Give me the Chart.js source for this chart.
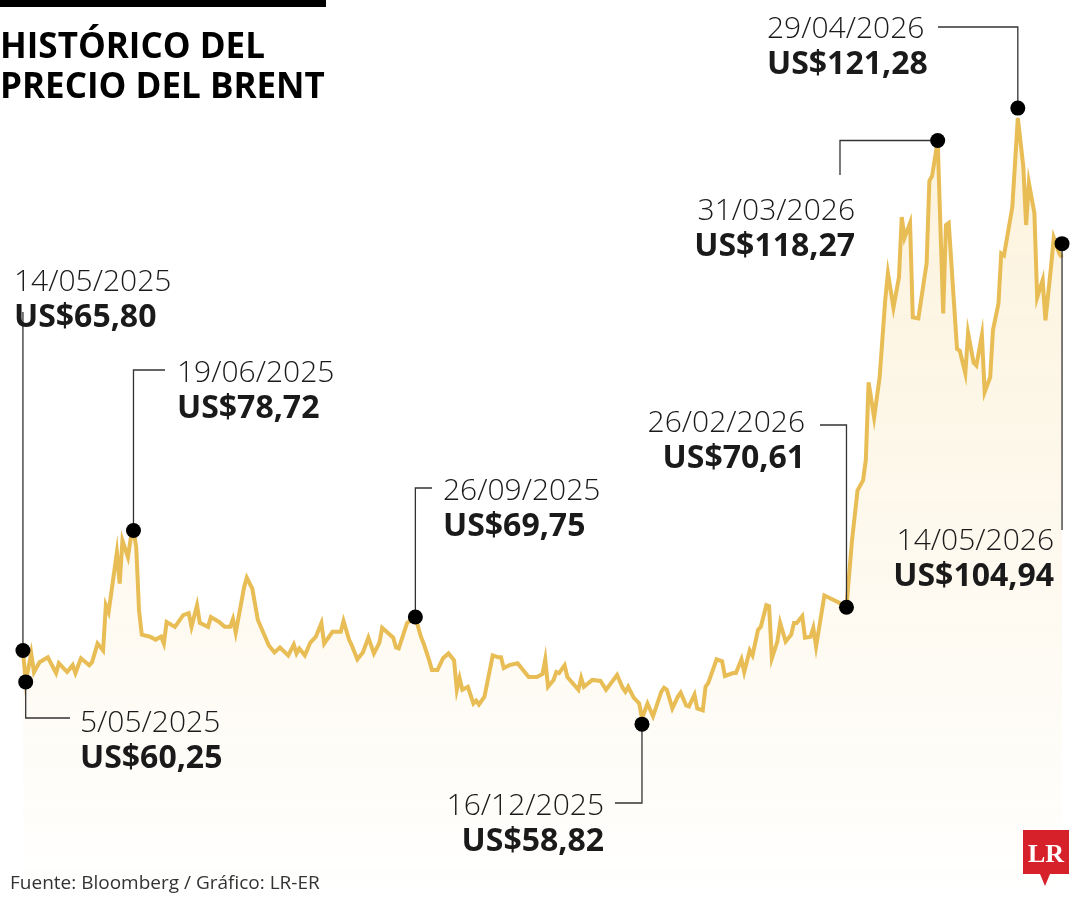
<!DOCTYPE html>
<html>
<head>
<meta charset="utf-8">
<script src="https://cdn.jsdelivr.net/npm/chart.js@4.4.1/dist/chart.umd.min.js"></script>
<style>
  html, body { margin: 0; padding: 0; background: #fff; }
  #wrap { position: relative; width: 1080px; height: 900px; }
</style>
</head>
<body>
<div id="wrap"><canvas id="brentChart" width="1080" height="900"></canvas></div>
<script>
// days since 5/05/2025
const days = [0,1,3,4,6,9,12,13,16,18,19,21,24,25,27,29,30,31,34,35,36,38,39,40,41,42,43,46,48,50,51,52,55,58,60,61,63,64,67,68,71,73,75,76,77,80,81,83,85,87,89,91,93,96,98,99,100,102,104,106,108,109,112,115,116,118,119,121,123,125,127,129,130,134,135,136,139,142,144,145,147,148,150,152,154,156,157,158,159,161,163,164,165,167,170,172,173,174,176,179,183,186,188,189,190,192,193,194,196,197,201,202,203,206,209,211,215,217,218,219,221,223,224,226,228,231,232,233,235,237,238,240,241,243,244,246,247,248,251,253,254,257,258,260,261,263,264,266,267,269,270,271,273,274,276,278,279,280,282,283,285,286,287,290,295,298,300,302,304,305,306,308,310,312,313,315,317,318,319,321,322,324,327,328,329,331,333,334,335,338,339,341,342,344,345,347,348,350,351,353,354,355,358,360,362,363,364,366,367,369,370,372,373,375,376];
const prices = [66.1,62.9,65.8,63.9,64.9,65.4,63.8,64.8,63.9,64.6,63.8,65.3,64.6,64.9,66.8,66.1,70.7,70.0,76.1,72.9,77.3,75.6,77.5,78.3,76.6,70.2,67.7,67.5,67.2,67.5,66.8,69.0,68.5,69.7,69.9,68.5,70.7,68.9,68.5,69.5,69.0,68.5,68.5,69.3,67.9,72.5,73.5,72.4,69.2,67.9,66.6,65.9,66.4,65.6,66.7,65.8,66.3,65.6,66.9,67.5,68.9,66.8,68.0,68.0,69.1,67.2,66.6,65.2,65.9,67.4,65.8,66.9,68.4,67.4,66.4,66.3,68.9,69.5,67.5,66.8,65.1,64.1,64.1,65.3,65.8,65.1,62.1,63.3,62.1,62.4,60.7,61.0,60.6,61.4,65.6,65.4,65.4,64.3,64.6,64.8,63.4,63.4,63.7,65.2,62.4,63.1,63.9,63.8,64.6,63.4,62.1,63.3,62.4,63.1,63.0,62.1,63.6,62.3,61.9,62.4,61.3,60.7,59.2,60.7,59.4,61.9,62.3,62.1,60.2,61.4,61.8,60.5,60.4,61.6,60.2,60.0,62.4,62.8,65.2,65.0,63.5,63.8,63.8,65.2,63.9,66.1,65.6,68.2,68.5,70.7,70.6,65.3,67.0,68.9,67.0,67.7,68.9,68.9,69.6,67.4,67.5,68.4,66.5,71.7,71.0,70.5,77.3,82.4,83.4,85.5,93.4,89.8,93.9,101.7,104.5,101.0,104.1,110.2,108.1,109.6,100.0,99.9,105.5,113.9,114.4,118.0,100.4,109.4,109.6,96.8,96.6,94.3,98.4,95.4,95.1,98.2,92.4,93.9,98.7,101.4,106.5,106.3,111.2,120.3,115.3,109.4,113.7,110.6,102.0,103.8,99.7,105.1,108.1,106.5,106.1];

// highlighted points
const markDays = [0, 1, 40, 142, 224, 298, 331, 360, 376];
const markPrices = [66.1, 62.9, 78.3, 69.5, 58.6, 70.5, 118.0, 121.3, 107.5];
const markDates = ["14/05/2025","5/05/2025","19/06/2025","26/09/2025","16/12/2025","26/02/2026","31/03/2026","29/04/2026","14/05/2026"];
const markValues = ["US$65,80","US$60,25","US$78,72","US$69,75","US$58,82","US$70,61","US$118,27","US$121,28","US$104,94"];

// label layout: text anchor x, date baseline y, alignment, leader path
const labelLayout = [
  { x: 14, y: 291, align: "left", path: [[0, 312]] },
  { x: 80, y: 732, align: "left", path: [[0, 718], [70, 718]] },
  { x: 177, y: 382, align: "left", path: [[0, 370], [165, 370]] },
  { x: 443, y: 500, align: "left", path: [[0, 488], [432, 488]] },
  { x: 604, y: 815, align: "right", path: [[0, 803], [615, 803]] },
  { x: 805, y: 432, align: "right", path: [[0, 425], [820, 425]] },
  { x: 855, y: 220, align: "right", path: [[840, 0], [840, 175]] },
  { x: 767, y: 38, align: "left", path: [[0, 27], [938, 27]] },
  { x: 1054, y: 550, align: "right", path: [[0, 530]] },
];

const annotations = {
  id: "annotations",
  afterDraw(chart) {
    const { ctx, scales } = chart;
    ctx.save();
    // leader lines
    ctx.strokeStyle = "#333";
    ctx.lineWidth = 1.3;
    markDays.forEach((d, i) => {
      const px = scales.x.getPixelForValue(d);
      const py = scales.y.getPixelForValue(markPrices[i]);
      ctx.beginPath();
      ctx.moveTo(px, py);
      let cx = px, cy = py;
      labelLayout[i].path.forEach(([ax, ay]) => {
        cx = ax === 0 ? cx : ax;
        cy = ay === 0 ? cy : ay;
        ctx.lineTo(cx, cy);
      });
      ctx.stroke();
    });
    // dots
    ctx.fillStyle = "#000";
    markDays.forEach((d, i) => {
      ctx.beginPath();
      ctx.arc(scales.x.getPixelForValue(d), scales.y.getPixelForValue(markPrices[i]), 7.5, 0, Math.PI * 2);
      ctx.fill();
    });
    // labels
    ctx.fillStyle = "#1a1a1a";
    labelLayout.forEach((l, i) => {
      ctx.textAlign = l.align;
      ctx.font = "300 30px 'Open Sans'";
      ctx.fillText(markDates[i], l.x, l.y);
      ctx.font = "bold 32px 'Open Sans'";
      ctx.fillText(markValues[i], l.x, l.y + 36);
    });
    // title
    ctx.textAlign = "left";
    ctx.fillStyle = "#000";
    ctx.fillRect(0, 0, 326, 7);
    ctx.font = "bold 35px 'Open Sans'";
    ctx.fillText("HISTÓRICO DEL", 0, 58);
    ctx.fillText("PRECIO DEL BRENT", 0, 98);
    // source
    ctx.fillStyle = "#333";
    ctx.font = "19px 'Open Sans'";
    ctx.fillText("Fuente: Bloomberg / Gráfico: LR-ER", 10, 889);
    // logo
    ctx.fillStyle = "#d6212a";
    ctx.fillRect(1023, 830, 46, 44);
    ctx.beginPath();
    ctx.moveTo(1040, 874); ctx.lineTo(1050, 874); ctx.lineTo(1045, 886); ctx.closePath();
    ctx.fill();
    ctx.fillStyle = "#fff";
    ctx.font = "bold 26px 'Liberation Serif'";
    ctx.textAlign = "center";
    ctx.fillText("LR", 1046, 862);
    ctx.restore();
  }
};

const canvas = document.getElementById("brentChart");
const ctx = canvas.getContext("2d");
const grad = ctx.createLinearGradient(0, 100, 0, 900);
grad.addColorStop(0, "rgba(250,232,190,0.55)");
grad.addColorStop(1, "rgba(255,255,255,0.6)");

new Chart(ctx, {
  type: "line",
  data: {
    datasets: [{
      data: days.map((d, i) => ({ x: d, y: prices[i] })),
      borderColor: "#e8bd55",
      borderWidth: 4,
      pointRadius: 0,
      tension: 0,
      fill: "start",
      backgroundColor: grad,
    }],
  },
  options: {
    responsive: false,
    animation: false,
    layout: { padding: 0 },
    plugins: { legend: { display: false }, tooltip: { enabled: false } },
    scales: {
      x: { type: "linear", display: false, min: -8.3, max: 382.5 },
      y: { display: false, min: 40.7, max: 132.3 },
    },
  },
  plugins: [annotations],
});
</script>
</body>
</html>
